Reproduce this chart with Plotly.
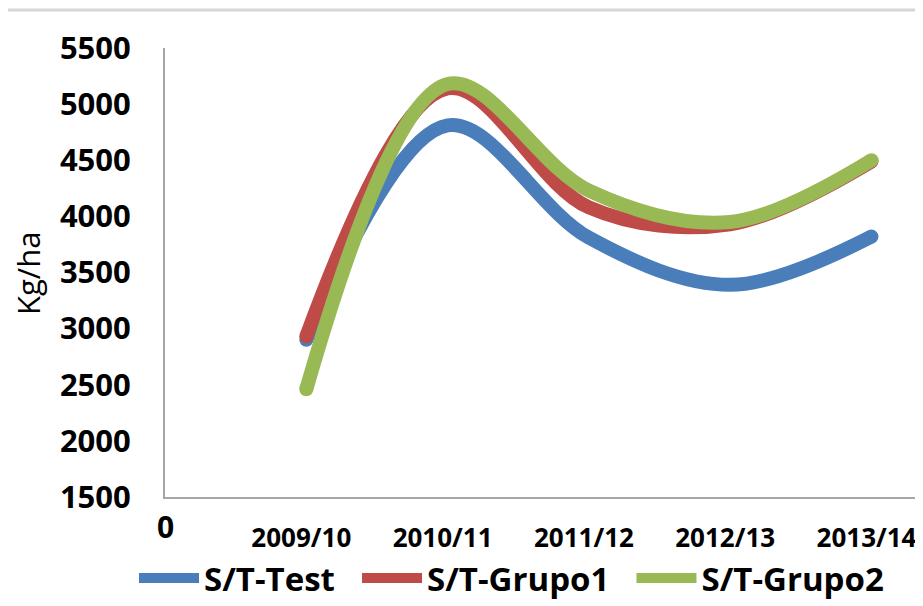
import plotly.graph_objects as go

seasons = ["2009/10", "2010/11", "2011/12", "2012/13", "2013/14"]
season_pos = [1, 2, 3, 4, 5]
tick_vals = [0, 1, 2, 3, 4, 5]
tick_text = ["", "2009/10", "2010/11", "2011/12", "2012/13", "2013/14"]

st_test = [2900, 4810, 3810, 3390, 3820]
st_grupo1 = [2930, 5140, 4080, 3930, 4490]
st_grupo2 = [2460, 5180, 4230, 3950, 4500]

series = [
    ("S/T-Test", st_test, "#4A7EBB"),
    ("S/T-Grupo1", st_grupo1, "#BE4B48"),
    ("S/T-Grupo2", st_grupo2, "#98B954"),
]

PAD = "\u00a0\u00a0"

fig = go.Figure()
for name, vals, col in series:
    fig.add_trace(go.Scatter(
        x=season_pos, y=vals, name=name + PAD, mode="lines", legendgroup=name,
        line=dict(color=col, width=14, shape="spline", smoothing=1.0),
        hovertext=seasons,
    ))
    # round line caps at both ends of each series
    fig.add_trace(go.Scatter(
        x=[season_pos[0], season_pos[-1]], y=[vals[0], vals[-1]],
        mode="markers", showlegend=False, legendgroup=name, hoverinfo="skip",
        marker=dict(color=col, size=14, line=dict(width=0)),
    ))

# page body has an 8px margin; figure coordinates = page coordinates - 8
W, H = 915, 598
L, T = 157, 40
BOT = 489
B = H - BOT
pw = W - L
ph = BOT - T

fig.update_layout(
    width=W, height=H,
    margin=dict(l=L, r=0, t=T, b=B, pad=0, autoexpand=False),
    paper_bgcolor="white", plot_bgcolor="white",
    font=dict(family="Open Sans", color="black"),
    showlegend=True,
    legend=dict(
        orientation="h", x=(126 - L) / pw, xanchor="left",
        y=(BOT - 598) / ph, yanchor="bottom",
        font=dict(size=33, family="Open Sans", weight="bold"),
        itemwidth=60, borderwidth=0, bgcolor="rgba(0,0,0,0)",
    ),
    xaxis=dict(
        range=[0, pw / 141.3], automargin=False,
        tickvals=tick_vals, ticktext=tick_text,
        showgrid=False, zeroline=False,
        showline=True, linecolor="#A6A6A6", linewidth=2,
        ticks="", ticklabelstandoff=17, ticklabelshift=-5,
        ticklabeloverflow="allow",
        tickfont=dict(size=26, family="Open Sans", weight="bold"),
    ),
    yaxis=dict(
        range=[1500, 5500], automargin=False,
        tickvals=[1500, 2000, 2500, 3000, 3500, 4000, 4500, 5000, 5500],
        showgrid=False, zeroline=False,
        showline=True, linecolor="#A6A6A6", linewidth=2,
        ticks="", ticklabelstandoff=26,
        tickfont=dict(size=31, family="Open Sans", weight="bold"),
    ),
    annotations=[
        dict(text="Kg/ha", textangle=-90, xref="paper", yref="paper",
             x=(20 - L) / pw, y=(BOT - 266) / ph, xanchor="center", yanchor="middle",
             showarrow=False, font=dict(size=31, family="Open Sans")),
        dict(text="0", xref="x", yref="paper", x=0, y=(BOT - 518) / ph,
             xanchor="center", yanchor="middle", showarrow=False,
             font=dict(size=30, family="Open Sans", weight="bold")),
    ],
    shapes=[
        dict(type="line", xref="paper", yref="paper",
             x0=-L / pw, x1=1, y0=(BOT - 2) / ph, y1=(BOT - 2) / ph,
             line=dict(color="#D6D6D6", width=3)),
    ],
)

fig.write_html("out.html")
